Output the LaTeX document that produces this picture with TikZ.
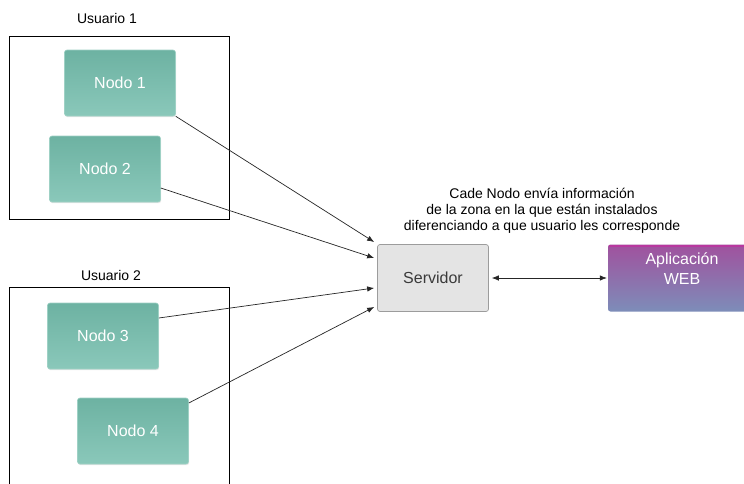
\documentclass[tikz,border=0pt]{standalone}
\usepackage{fontspec}
\setmainfont{Liberation Sans}
\usetikzlibrary{arrows.meta,calc,shadows}

\definecolor{tealtop}{HTML}{6DB2A2}
\definecolor{tealbot}{HTML}{8AC8BA}
\definecolor{tealedge}{HTML}{9FD1C5}
\definecolor{srvfill}{HTML}{E4E4E4}
\definecolor{srvedge}{HTML}{9C9C9C}
\definecolor{srvtext}{HTML}{3A3A3A}
\definecolor{apptop}{HTML}{A0519E}
\definecolor{appbot}{HTML}{7D8DB9}
\definecolor{appline}{HTML}{B8389F}

\tikzset{
  userbox/.style={draw=black, line width=0.7pt},
  userlabel/.style={font=\fontsize{14}{16}\selectfont, text=black},
  nodobox/.style={draw=tealedge, line width=0.6pt, rounded corners=2.5pt,
    top color=tealtop, bottom color=tealbot,
    drop shadow={opacity=0.18, shadow xshift=0.6pt, shadow yshift=-1.2pt},
    minimum width=111pt, minimum height=66pt, inner sep=0pt,
    text=white, font=\fontsize{16}{19}\selectfont},
  srvbox/.style={draw=srvedge, line width=0.7pt, rounded corners=2.5pt,
    fill=srvfill, minimum width=111pt, minimum height=67pt, inner sep=0pt,
    text=srvtext, font=\fontsize{16}{19}\selectfont},
  appbox/.style={draw=none, rounded corners=2.5pt,
    top color=apptop, bottom color=appbot,
    minimum width=148pt, minimum height=67pt, inner sep=0pt},
  applabel/.style={text=white, align=center, font=\fontsize{16}{20}\selectfont},
  note/.style={align=center, font=\fontsize{14}{16}\selectfont, text=black},
  link/.style={draw=black!85, line width=0.7pt, -{Latex[length=7pt,width=5.5pt]}},
  biline/.style={draw=black!85, line width=0.7pt,
    {Latex[length=7pt,width=5.5pt]}-{Latex[length=7pt,width=5.5pt]}}
}

\begin{document}
\begin{tikzpicture}[x=1pt,y=-1pt]
  \useasboundingbox (0,0) rectangle (744,483);
  \clip (0,0) rectangle (744,483);
  \fill[white] (0,0) rectangle (744,483);

  % user groups
  \node[userlabel] (u1lab) at (107,18) {Usuario 1};
  \draw[userbox] (9,36) rectangle (229,219);
  \node[userlabel] (u2lab) at (111,275) {Usuario 2};
  \draw[userbox] (9,287) rectangle (229,500);

  % sensor nodes
  \node[nodobox] (n1) at (120,83) {Nodo 1};
  \node[nodobox] (n2) at (105,169) {Nodo 2};
  \node[nodobox] (n3) at (103,336) {Nodo 3};
  \node[nodobox] (n4) at (133,431) {Nodo 4};

  % server and web application
  \node[srvbox] (srv) at (433,278) {Servidor};
  \node[appbox] (app) at (682,278) {};
  \fill[appline] ([yshift=-0.5pt]app.north west) ++(1.5,0) rectangle ([xshift=-1.5pt,yshift=-2.2pt]app.north east);
  \node[applabel] (applab) at (682,269) {Aplicación\\WEB};

  \node[note] (info) at (542,211)
    {Cade Nodo envía información\\de la zona en la que están instalados\\diferenciando a que usuario les corresponde};

  % connectors
  \coordinate (s1) at ([xshift=-3pt,yshift=36pt]srv.west);
  \coordinate (s2) at ([xshift=-3pt,yshift=20pt]srv.west);
  \coordinate (s3) at ([xshift=-3pt,yshift=-10pt]srv.west);
  \coordinate (s4) at ([xshift=-3pt,yshift=-29pt]srv.west);

  \draw[link] (n1.south east) -- (s1);
  \draw[link] ([yshift=-19pt]n2.east) -- (s2);
  \draw[link] ([yshift=18pt]n3.east) -- (s3);
  \draw[link] ([yshift=28pt]n4.east) -- (s4);

  \draw[biline, shorten <=3pt, shorten >=1pt] (srv.east) -- (app.west);
\end{tikzpicture}
\end{document}
